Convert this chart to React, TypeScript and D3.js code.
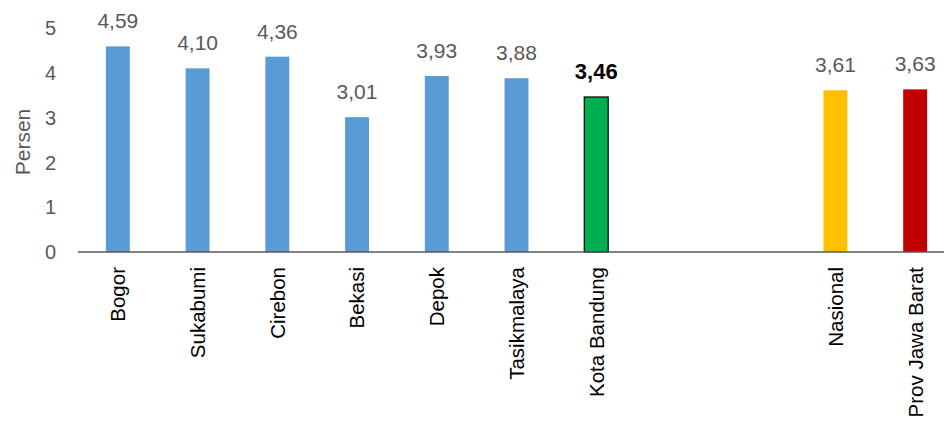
import React from "react";
import * as d3 from "d3";

const categories = ["Bogor", "Sukabumi", "Cirebon", "Bekasi", "Depok", "Tasikmalaya", "Kota Bandung", "Nasional", "Prov Jawa Barat"];
const values = [4.59, 4.10, 4.36, 3.01, 3.93, 3.88, 3.46, 3.61, 3.63];
const yTicks = [0, 1, 2, 3, 4, 5];
const gapSlots = ["__gap1", "__gap2"];
const yLabel = "Persen";

const colorFor: Record<string, string> = {
  "Kota Bandung": "#00B050",
  Nasional: "#FFC000",
  "Prov Jawa Barat": "#C00000",
};
const defaultColor = "#5B9BD5";

const W = 944;
const H = 421;
const FONT = "'Liberation Sans', Arial, sans-serif";

export default function App() {
  const slots = [...categories.slice(0, 7), ...gapSlots, ...categories.slice(7)];
  const x = d3.scaleBand<string>().domain(slots).range([78, 955]).paddingInner(0.7).paddingOuter(0.35);
  const y = d3.scaleLinear().domain([0, 5]).range([252, 28]);
  const fmt = (v: number) => v.toFixed(2).replace(".", ",");

  return (
    <svg width={W} height={H} style={{ position: "absolute", left: 0, top: 0, background: "#fff" }} fontFamily={FONT}>
      {yTicks.map((t) => (
        <text key={t} x={56} y={y(t)} dy="0.36em" textAnchor="end" fontSize={20} fill="#595959">
          {t}
        </text>
      ))}
      <text transform={`translate(22,${(y(0) + y(5)) / 2 + 2}) rotate(-90)`} dy="0.36em" textAnchor="middle" fontSize={21} fill="#595959">
        {yLabel}
      </text>
      {categories.map((c, i) => {
        const bx = x(c)!;
        const bw = x.bandwidth();
        const isKB = c === "Kota Bandung";
        return (
          <g key={c}>
            <rect
              x={bx}
              y={y(values[i])}
              width={bw}
              height={y(0) - y(values[i])}
              fill={colorFor[c] || defaultColor}
              stroke={isKB ? "#000" : "none"}
              strokeWidth={isKB ? 1.2 : 0}
            />
            <text
              x={bx + bw / 2}
              y={y(values[i]) - 18}
              textAnchor="middle"
              fontSize={isKB ? 22 : 21}
              fontWeight={isKB ? "bold" : "normal"}
              fill={isKB ? "#000" : "#595959"}
            >
              {fmt(values[i])}
            </text>
            <text
              transform={`translate(${bx + bw / 2},${267}) rotate(-90)`}
              dy="0.36em"
              textAnchor="end"
              fontSize={20.5}
              fill="#000"
            >
              {c}
            </text>
          </g>
        );
      })}
      <line x1={78} x2={W} y1={y(0)} y2={y(0)} stroke="#595959" strokeWidth={1.5} />
    </svg>
  );
}
